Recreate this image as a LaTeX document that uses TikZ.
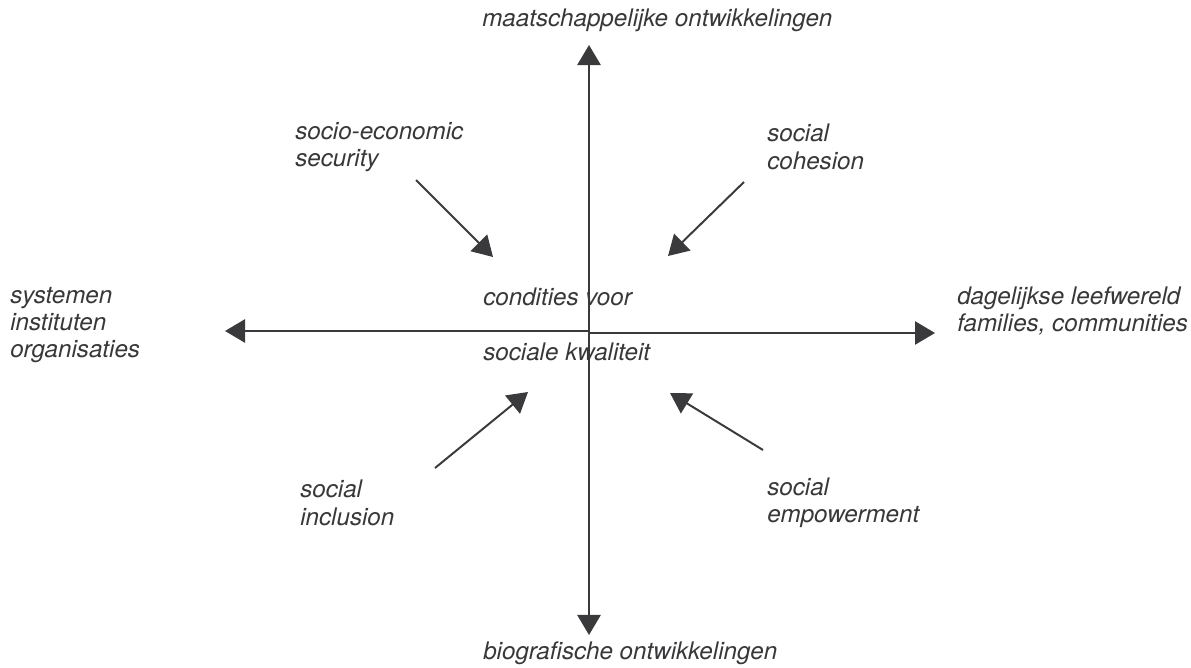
\documentclass[tikz,border=0pt]{standalone}
\usepackage{fontspec}
\setmainfont{TeX Gyre Heros}
\usetikzlibrary{arrows.meta}
\definecolor{axisgrey}{HTML}{3A3A3C}
\definecolor{textgrey}{HTML}{38383A}

\begin{document}
\begin{tikzpicture}[
    x=0.025cm, y=-0.025cm,
    label/.style={font=\fontsize{17.2}{19.4}\selectfont\itshape, text=textgrey, align=left, anchor=west, inner sep=0pt},
    axis/.style={draw=axisgrey, line width=1.4pt, -{Triangle[length=0.5cm, width=0.58cm]}},
]
\useasboundingbox (0,0) rectangle (1191,668);
% axes
\coordinate (centre) at (589,332);
\coordinate (up) at (589,45);
\coordinate (down) at (589,635);
\coordinate (west) at (225,331);
\coordinate (east) at (935,333);
\draw[axis] (centre) -- (up);
\draw[axis] (centre) -- (down);
\draw[axis] (centre |- west) -- (west);
\draw[axis] (centre |- east) -- (east);
% axis labels
\node[label] (maat) at (482,20) {maatschappelijke ontwikkelingen};
\node[label] (bio) at (483,653) {biografische ontwikkelingen};
\node[label] (sys) at (10,325) {systemen\\instituten\\organisaties};
\node[label] (daily) at (957,311) {dagelijkse leefwereld\\families, communities};
\node[label] (cond) at (483,297) {condities voor};
\node[label] (kwal) at (483,352) {sociale kwaliteit};
% the four components
\node[label] (secu) at (295,147) {socio-economic\\security};
\node[label] (cohe) at (767,147) {social\\cohesion};
\node[label] (incl) at (300,503) {social\\inclusion};
\node[label] (empo) at (767,503) {social\\empowerment};
\coordinate (secufrom) at (416,180);
\coordinate (secuto) at (493,257);
\coordinate (cohefrom) at (744,182);
\coordinate (coheto) at (668,256);
\coordinate (inclfrom) at (435,468);
\coordinate (inclto) at (528,392);
\coordinate (empofrom) at (763,450);
\coordinate (empoto) at (670,393);
\draw[axis] (secufrom) -- (secuto);
\draw[axis] (cohefrom) -- (coheto);
\draw[axis] (inclfrom) -- (inclto);
\draw[axis] (empofrom) -- (empoto);
\end{tikzpicture}
\end{document}
